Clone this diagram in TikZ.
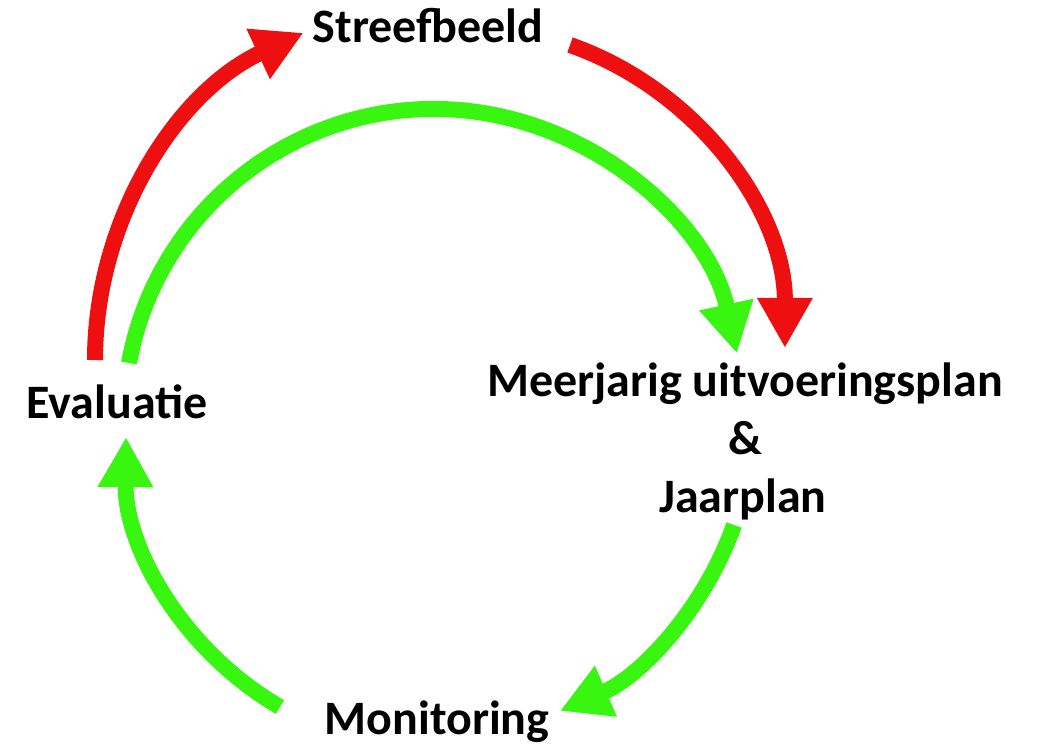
\documentclass[tikz,border=0pt]{standalone}
\usepackage{fontspec}
\setmainfont{Carlito}
\usepackage{tikz}
\usetikzlibrary{arrows.meta}

\definecolor{cyclered}{RGB}{238,16,16}
\definecolor{cyclegreen}{RGB}{56,246,16}

\begin{document}
\begin{tikzpicture}[x=0.5pt,y=-0.5pt,
                    stage/.style={font=\fontsize{24}{29}\selectfont\bfseries,inner sep=0pt,anchor=base},
                    red arrow/.style={draw=cyclered,line width=8pt,-{Triangle[length=25pt,width=26pt]}},
                    green arrow/.style={draw=cyclegreen,line width=8pt,-{Triangle[length=25pt,width=26pt]}}]
 \useasboundingbox (0,0) rectangle (1038,749);

%Stages of the cycle
   \node[stage] (Streefbeeld) at (428,43) {Streefbeeld};
   \node[stage] (Plan) at (745,396) {Meerjarig uitvoeringsplan};
   \node[stage] (And) at (745,454) {\&};
   \node[stage] (Jaarplan) at (743,512) {Jaarplan};
   \node[stage] (Monitoring) at (437,734) {Monitoring};
   \node[stage] (Evaluatie) at (117,418) {Evaluatie};

%Start points of the arrows
   \coordinate (RedStart1) at (95,360);
   \coordinate (RedStart2) at (570,45);
   \coordinate (GreenStart1) at (129,363);
   \coordinate (GreenStart2) at (734,525);
   \coordinate (GreenStart3) at (280,707);

%Red arrows
   \draw[red arrow] (RedStart1) arc[start angle=180,end angle=245,radius=361];
   \draw[red arrow] (RedStart2) arc[start angle=-70.7,end angle=0,radius=321];

%Green arrows
   \draw[green arrow] (GreenStart1) arc[start angle=-169.6,end angle=-12.2,radius=310];
   \draw[green arrow] (GreenStart2) arc[start angle=19.5,end angle=66.7,radius=318];
   \draw[green arrow] (GreenStart3) arc[start angle=120,end angle=180.6,radius=308];

\end{tikzpicture}
\end{document}
